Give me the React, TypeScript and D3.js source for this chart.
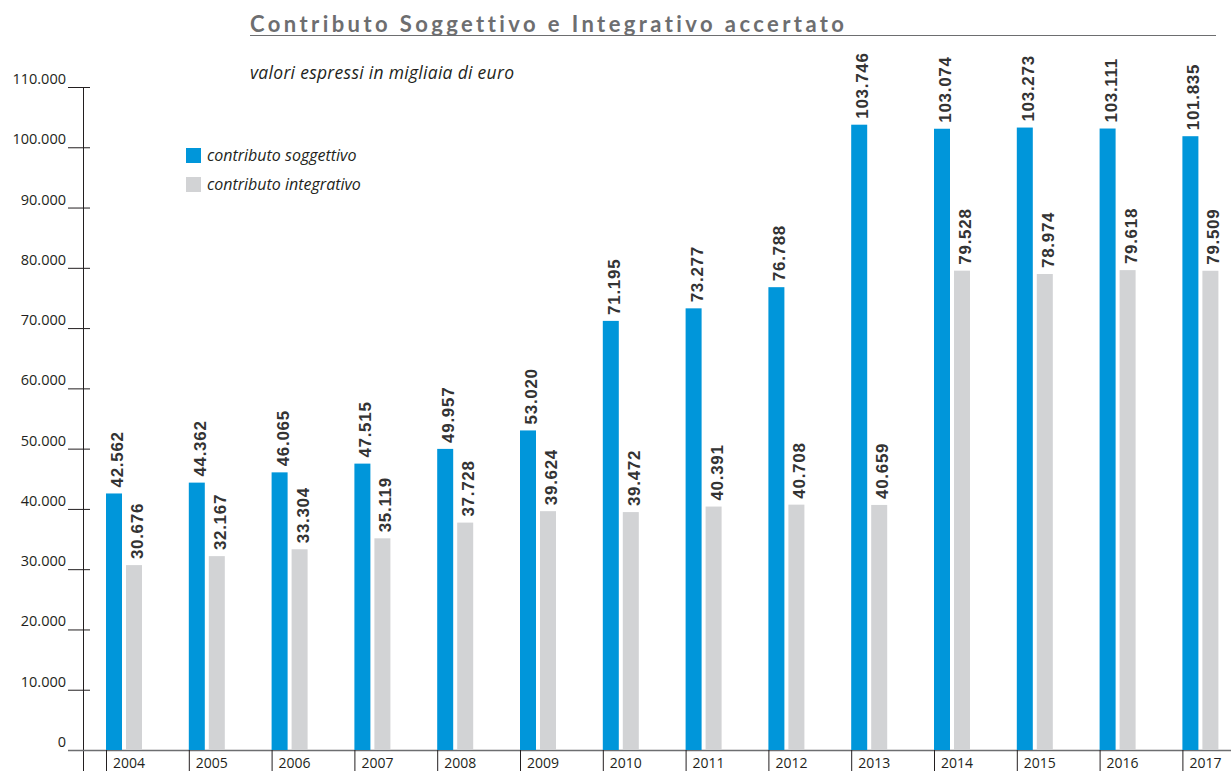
import * as d3 from "d3";
import { useEffect, useRef } from "react";

const years = ["2004", "2005", "2006", "2007", "2008", "2009", "2010", "2011", "2012", "2013", "2014", "2015", "2016", "2017"];
const soggettivo = [42562, 44362, 46065, 47515, 49957, 53020, 71195, 73277, 76788, 103746, 103074, 103273, 103111, 101835];
const integrativo = [30676, 32167, 33304, 35119, 37728, 39624, 39472, 40391, 40708, 40659, 79528, 78974, 79618, 79509];
const yTicks = [0, 10000, 20000, 30000, 40000, 50000, 60000, 70000, 80000, 90000, 100000, 110000];
const seriesNames = ["contributo soggettivo", "contributo integrativo"];

const W = 1231;
const H = 771;
const BLUE = "#0096da";
const GREY = "#d2d3d5";

const fmt = (v: number) => d3.format(",")(v).replace(/,/g, ".");

export default function App() {
  const ref = useRef<SVGSVGElement>(null);

  useEffect(() => {
    const svg = d3.select(ref.current);
    svg.selectAll("*").remove();

    const y = d3.scaleLinear().domain([0, 110000]).range([750, 87]);
    const x = d3.scaleBand().domain(years).range([106, 106 + 14 * 82.8]);
    const sub = d3.scaleBand().domain(["s", "i"]).range([0, 36]).paddingInner(0.2);

    // title
    svg.append("text")
      .attr("x", 250).attr("y", 32)
      .attr("font-family", "Lato, sans-serif")
      .attr("font-weight", "bold")
      .attr("font-size", 22)
      .attr("fill", "#6d6e70")
      .attr("textLength", 594)
      .attr("lengthAdjust", "spacing")
      .style("font-variant-ligatures", "none")
      .style("font-feature-settings", "'liga' 0, 'clig' 0")
      .text("Contributo Soggettivo e Integrativo accertato");
    svg.append("line")
      .attr("x1", 250).attr("x2", 1216).attr("y1", 35.5).attr("y2", 35.5)
      .attr("stroke", "#6d6e70").attr("stroke-width", 1.2);

    svg.append("text")
      .attr("x", 250).attr("y", 79)
      .attr("font-family", "'Open Sans', sans-serif")
      .attr("font-style", "italic")
      .attr("font-size", 17.5)
      .attr("fill", "#231f20")
      .attr("textLength", 264)
      .attr("lengthAdjust", "spacing")
      .text("valori espressi in migliaia di euro");

    // y axis
    const ax = svg.append("g").attr("font-family", "'Open Sans', sans-serif").attr("font-size", 14.5).attr("fill", "#231f20");
    ax.append("line").attr("x1", 83.5).attr("x2", 83.5).attr("y1", y(110000)).attr("y2", H)
      .attr("stroke", "#231f20").attr("stroke-width", 1);
    const tk = ax.selectAll("g.tick").data(yTicks).join("g").attr("class", "tick");
    tk.append("line")
      .attr("x1", 68).attr("x2", 90)
      .attr("y1", d => y(d) + 0.5).attr("y2", d => y(d) + 0.5)
      .attr("stroke", "#231f20").attr("stroke-width", 1);
    tk.append("text")
      .attr("x", 66).attr("y", d => y(d) - 3)
      .attr("text-anchor", "end")
      .text(d => fmt(d));

    // baseline
    svg.append("line").attr("x1", 68).attr("x2", W).attr("y1", 750.5).attr("y2", 750.5)
      .attr("stroke", "#6d6e70").attr("stroke-width", 1.5);

    // category separators and labels
    const cat = svg.append("g").selectAll("g").data(years).join("g");
    cat.append("line")
      .attr("x1", d => x(d)! + 0.5).attr("x2", d => x(d)! + 0.5)
      .attr("y1", 750).attr("y2", H)
      .attr("stroke", "#231f20");
    cat.append("text")
      .attr("x", d => x(d)! + 7).attr("y", 768)
      .attr("font-family", "'Open Sans', sans-serif")
      .attr("font-size", 14)
      .attr("fill", "#231f20")
      .text(d => d);

    // bars
    const series = [
      { key: "s", values: soggettivo, color: BLUE },
      { key: "i", values: integrativo, color: GREY },
    ];
    for (const s of series) {
      const g = svg.append("g");
      g.selectAll("rect").data(s.values).join("rect")
        .attr("x", (_, i) => x(years[i])! + sub(s.key)!)
        .attr("width", sub.bandwidth())
        .attr("y", d => y(d))
        .attr("height", d => 750 - y(d))
        .attr("fill", s.color);
      g.selectAll("text").data(s.values).join("text")
        .attr("transform", (d, i) => `translate(${x(years[i])! + sub(s.key)! + 17},${y(d) - 6}) rotate(-90)`)
        .attr("font-family", "'Liberation Sans', Arial, sans-serif")
        .attr("font-weight", "bold")
        .attr("font-size", 17)
        .attr("letter-spacing", 0.7)
        .attr("fill", "#333")
        .text(d => fmt(d));
    }

    // legend
    const lg = svg.append("g").selectAll("g").data(seriesNames).join("g")
      .attr("transform", (_, i) => `translate(186,${148 + i * 29})`);
    lg.append("rect").attr("width", 15).attr("height", 15).attr("fill", (_, i) => (i === 0 ? BLUE : GREY));
    lg.append("text")
      .attr("x", 21).attr("y", 13)
      .attr("font-family", "'Open Sans', sans-serif")
      .attr("font-style", "italic")
      .attr("font-size", 16)
      .attr("fill", "#231f20")
      .text(d => d);
  }, []);

  return (
    <div style={{ position: "absolute", left: 0, top: 0, width: W, height: H, background: "#fff" }}>
      <svg ref={ref} width={W} height={H} style={{ display: "block" }} />
    </div>
  );
}
